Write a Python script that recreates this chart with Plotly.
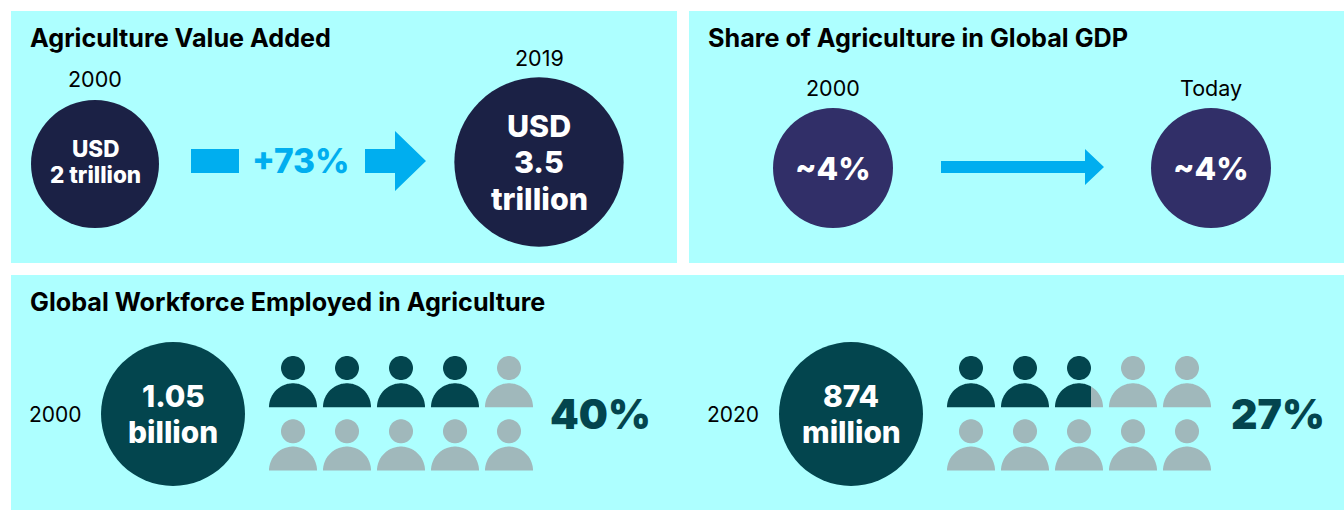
import numpy as np
import plotly.graph_objects as go

# ---- data ----
titles = ["Agriculture Value Added", "Share of Agriculture in Global GDP", "Global Workforce Employed in Agriculture"]
value_years = ["2000", "2019"]
value_trillion = [2.0, 3.5]
value_labels = ["USD<br>2 trillion", "USD<br>3.5<br>trillion"]
value_change = "+73%"
share_years = ["2000", "Today"]
share_labels = ["~4%", "~4%"]
work_years = ["2000", "2020"]
work_labels = ["1.05<br>billion", "874<br>million"]
work_pct = [40, 27]

# ---- style ----
BG = "#ADFFFF"; NAVY = "#1B2145"; PURPLE = "#312F68"; TEAL = "#03454E"
GREY = "#A0B8BB"; BLUE = "#00AEEF"
FONT = "Inter"

W, H = 1344, 510
fig = go.Figure()
shapes, notes = [], []


def rect(x0, y0, x1, y1, c):
    shapes.append(dict(type="rect", x0=x0, y0=y0, x1=x1, y1=y1, fillcolor=c, line_width=0, layer="below"))


def circle(cx, cy, r, c):
    shapes.append(dict(type="circle", x0=cx - r, y0=cy - r, x1=cx + r, y1=cy + r, fillcolor=c, line_width=0, layer="below"))


def poly(pts, c):
    d = "M" + "L".join(f"{x:.2f},{y:.2f}" for x, y in pts) + "Z"
    shapes.append(dict(type="path", path=d, fillcolor=c, line_width=0, layer="below"))


def text(x, y, s, size, color, weight=400, anchor="center", gap=0):
    """Place text centred at y; <br>-separated lines are spaced by gap."""
    lines = s.split("<br>")
    for i, line in enumerate(lines):
        notes.append(dict(x=x, y=y + (i - (len(lines) - 1) / 2) * gap, text=line, showarrow=False,
                          xanchor=anchor, yanchor="middle", align="center",
                          font=dict(family=FONT, size=size, color=color, weight=weight)))


def arrow(x0, x1, head_x, cy, half_shaft, half_head):
    poly([(x0, cy - half_shaft), (head_x, cy - half_shaft), (head_x, cy - half_head), (x1, cy),
          (head_x, cy + half_head), (head_x, cy + half_shaft), (x0, cy + half_shaft)], BLUE)


def person(cx, top, fill_frac, on=TEAL, off=GREY):
    """Pictogram: head + half-disc body; filled from the left up to fill_frac."""
    head_r, body_r = 12, 24
    cy = top + head_r
    base = top + 51.3
    cut = cx - body_r + fill_frac * 2 * body_r
    th = np.linspace(0, 2 * np.pi, 73)
    tb = np.linspace(np.pi, 2 * np.pi, 73)

    def draw(xlo, xhi, c):
        hx = np.clip(cx + head_r * np.cos(th), xlo, xhi); hy = cy + head_r * np.sin(th)
        bx = np.clip(cx + body_r * np.cos(tb), xlo, xhi); by = base + body_r * np.sin(tb)
        poly(list(zip(hx, hy)), c)
        poly(list(zip(bx, by)), c)

    if fill_frac >= 1:
        draw(-1e9, 1e9, on)
    elif fill_frac <= 0:
        draw(-1e9, 1e9, off)
    else:
        draw(cut, 1e9, off)
        draw(-1e9, cut, on)


# panels
rect(11, 11, 677, 263, BG)
rect(689, 11, 1344, 263, BG)
rect(11, 275, 1344, 510, BG)

# titles
text(27.5, 38, titles[0], 25.2, "#000000", 700, "left")
text(705.5, 38, titles[1], 25.2, "#000000", 700, "left")
text(27.5, 302, titles[2], 25.2, "#000000", 700, "left")

# value added: circle area follows the value
k = 64 / np.sqrt(value_trillion[0])
cx_val = [95, 539]
cy_val = [164, 162]
for i in range(2):
    circle(cx_val[i], cy_val[i], k * np.sqrt(value_trillion[i]), NAVY)
text(95, 79, value_years[0], 21.5, "#000000")
text(539, 58, value_years[1], 21.5, "#000000")
text(95, 161, value_labels[0], 22.5, "#FFFFFF", 800, gap=26)
text(539, 162, value_labels[1], 30.4, "#FFFFFF", 800, gap=36.5)
rect(191, 149, 239, 173, BLUE)
text(301, 161, value_change, 33.5, BLUE, 800)
arrow(365, 426, 395, 161, 12, 30)

# share
for cx, lab, yr in zip([833, 1211], share_labels, share_years):
    circle(cx, 168, 60, PURPLE)
    text(cx, 168, lab, 31.5, "#FFFFFF", 800)
    text(cx, 88, yr, 21.5, "#000000")
arrow(941, 1104, 1085, 167, 6, 18)

# workforce
for off_x, yr, lab, pct in zip([0, 678], work_years, work_labels, work_pct):
    text(55 + off_x, 414, yr, 21, "#000000")
    circle(173 + off_x, 414, 72, TEAL)
    text(173 + off_x, 414, lab, 29.8, "#FFFFFF", 800, gap=36)
    filled = pct / 10
    if filled % 1:                # the reference rounds the partial figure up to 3/4
        filled = int(filled) + 0.75
    for row, top in enumerate([356, 419.3]):
        for col in range(5):
            idx = row * 5 + col
            person(293 + off_x + col * 54, top, float(np.clip(filled - idx, 0, 1)))
    text(600 + off_x, 414, f"{pct}%", 41, TEAL, 900)

# invisible data-carrying trace so the axes exist
fig.add_trace(go.Scatter(x=[0, W], y=[0, H], mode="markers", marker=dict(opacity=0), hoverinfo="skip", showlegend=False))
fig.update_layout(
    width=W, height=H, margin=dict(l=0, r=0, t=0, b=0), paper_bgcolor="#FFFFFF", plot_bgcolor="#FFFFFF",
    shapes=shapes, annotations=notes, showlegend=False,
    xaxis=dict(range=[0, W], visible=False, fixedrange=True),
    yaxis=dict(range=[H, 0], visible=False, fixedrange=True),
)
fig.write_html("out.html", config=dict(displayModeBar=False),
               post_script="document.body.style.margin='0';document.documentElement.style.overflow='hidden';")
